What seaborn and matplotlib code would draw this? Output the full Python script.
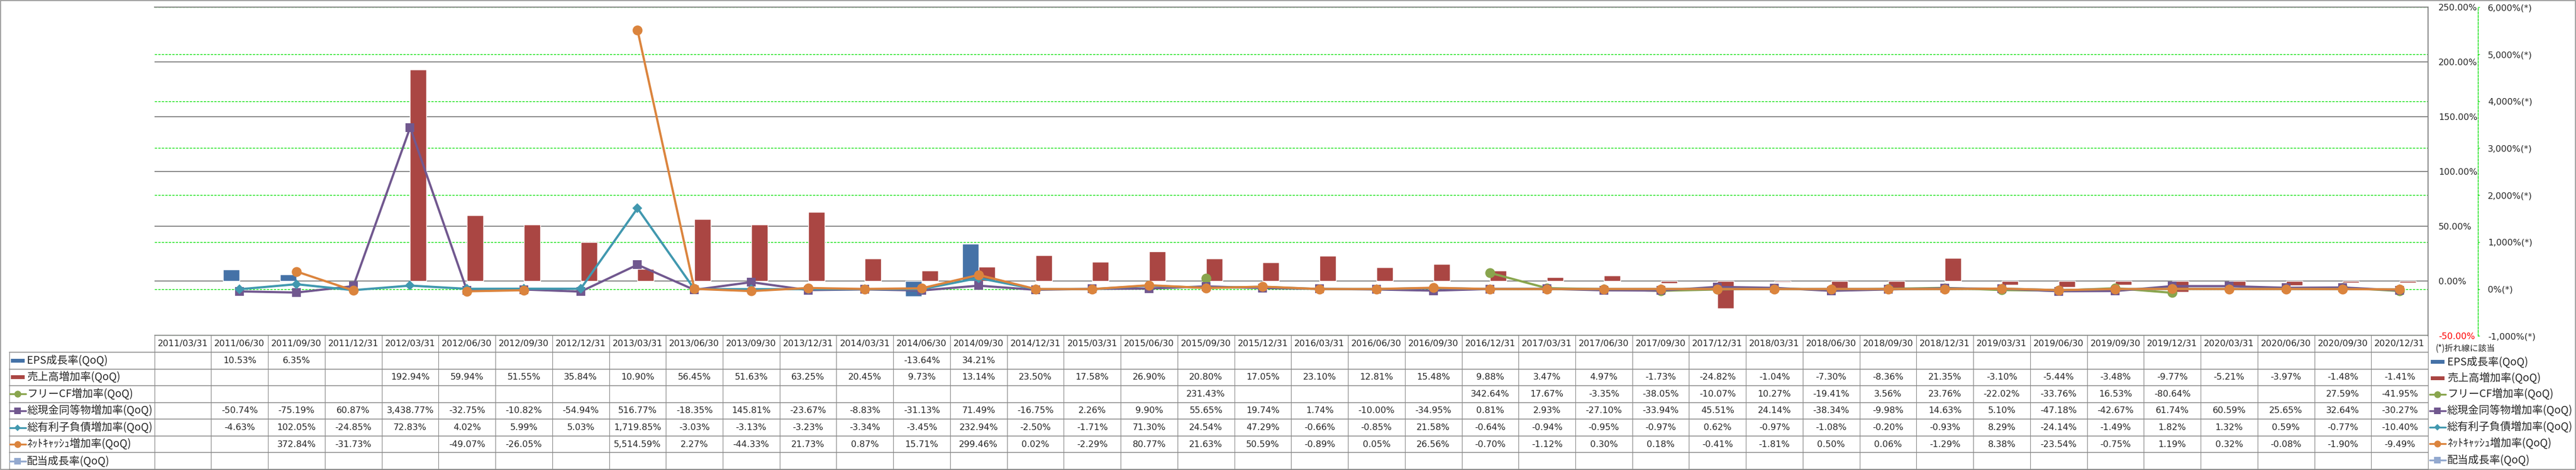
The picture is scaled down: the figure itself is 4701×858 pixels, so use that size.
import numpy as np
import pandas as pd
import seaborn as sns
import matplotlib.pyplot as plt
from matplotlib.patches import Rectangle
from matplotlib.lines import Line2D

N = np.nan

dates = ["2011/03/31", "2011/06/30", "2011/09/30", "2011/12/31",
         "2012/03/31", "2012/06/30", "2012/09/30", "2012/12/31",
         "2013/03/31", "2013/06/30", "2013/09/30", "2013/12/31",
         "2014/03/31", "2014/06/30", "2014/09/30", "2014/12/31",
         "2015/03/31", "2015/06/30", "2015/09/30", "2015/12/31",
         "2016/03/31", "2016/06/30", "2016/09/30", "2016/12/31",
         "2017/03/31", "2017/06/30", "2017/09/30", "2017/12/31",
         "2018/03/31", "2018/06/30", "2018/09/30", "2018/12/31",
         "2019/03/31", "2019/06/30", "2019/09/30", "2019/12/31",
         "2020/03/31", "2020/06/30", "2020/09/30", "2020/12/31"]

# bar series (left axis, %)
eps = [N, 10.53, 6.35, N, N, N, N, N, N, N,
       N, N, N, -13.64, 34.21, N, N, N, N, N,
       N, N, N, N, N, N, N, N, N, N,
       N, N, N, N, N, N, N, N, N, N]
sales = [N, N, N, N, 192.94, 59.94, 51.55, 35.84, 10.90, 56.45,
         51.63, 63.25, 20.45, 9.73, 13.14, 23.50, 17.58, 26.90, 20.80, 17.05,
         23.10, 12.81, 15.48, 9.88, 3.47, 4.97, -1.73, -24.82, -1.04, -7.30,
         -8.36, 21.35, -3.10, -5.44, -3.48, -9.77, -5.21, -3.97, -1.48, -1.41]

# line series (right axis, %(*))
fcf = [N, N, N, N, N, N, N, N, N, N,
       N, N, N, N, N, N, N, N, 231.43, N,
       N, N, N, 342.64, 17.67, -3.35, -38.05, -10.07, 10.27, -19.41,
       3.56, 23.76, -22.02, -33.76, 16.53, -80.64, N, N, 27.59, -41.95]
cash = [N, -50.74, -75.19, 60.87, 3438.77, -32.75, -10.82, -54.94, 516.77, -18.35,
        145.81, -23.67, -8.83, -31.13, 71.49, -16.75, 2.26, 9.90, 55.65, 19.74,
        1.74, -10.00, -34.95, 0.81, 2.93, -27.10, -33.94, 45.51, 24.14, -38.34,
        -9.98, 14.63, 5.10, -47.18, -42.67, 61.74, 60.59, 25.65, 32.64, -30.27]
debt = [N, -4.63, 102.05, -24.85, 72.83, 4.02, 5.99, 5.03, 1719.85, -3.03,
        -3.13, -3.23, -3.34, -3.45, 232.94, -2.50, -1.71, 71.30, 24.54, 47.29,
        -0.66, -0.85, 21.58, -0.64, -0.94, -0.95, -0.97, 0.62, -0.97, -1.08,
        -0.20, -0.93, 8.29, -24.14, -1.49, 1.82, 1.32, 0.59, -0.77, -10.40]
netcash = [N, N, 372.84, -31.73, N, -49.07, -26.05, N, 5514.59, 2.27,
           -44.33, 21.73, 0.87, 15.71, 299.46, 0.02, -2.29, 80.77, 21.63, 50.59,
           -0.89, 0.05, 26.56, -0.70, -1.12, 0.30, 0.18, -0.41, -1.81, 0.50,
           0.06, -1.29, 8.38, -23.54, -0.75, 1.19, 0.32, -0.08, -1.90, -9.49]
dividend = [N] * 40

names = ["EPS成長率(QoQ)", "売上高増加率(QoQ)", "フリーCF増加率(QoQ)",
         "総現金同等物増加率(QoQ)", "総有利子負債増加率(QoQ)",
         "ﾈｯﾄｷｬｯｼｭ増加率(QoQ)", "配当成長率(QoQ)"]
series = [eps, sales, fcf, cash, debt, netcash, dividend]
colors = ["#4572A7", "#AA4643", "#89A54E", "#71588F", "#4198AF", "#DB843D", "#93A9CF"]
markers = [None, None, "o", "s", "D", "o", "s"]
msizes = [0, 0, 13, 11, 9.5, 13, 11]

sns.set_style("white")
plt.rcParams["font.family"] = ["DejaVu Sans", "Noto Sans CJK JP"]
JP = ["Noto Sans CJK JP", "DejaVu Sans"]
GRAY = "#878787"
LIME = "#00e000"

W, H = 4701, 858
L, R = 281.7, 4431.0
TOP, BOT = 13.3, 613.3
colw = (R - L) / len(dates)

fig = plt.figure(figsize=(W / 100, H / 100), dpi=100)
ax = fig.add_axes([L / W, 1 - BOT / H, (R - L) / W, (BOT - TOP) / H])

bars = pd.DataFrame({"date": dates * 2,
                     "series": [names[0]] * 40 + [names[1]] * 40,
                     "value": eps + sales})
sns.barplot(data=bars, x="date", y="value", hue="series", order=dates,
            hue_order=names[:2], palette=colors[:2], width=0.578,
            errorbar=None, saturation=1, legend=False, ax=ax)

# secondary gridlines, behind the bars
sticks = list(range(-1000, 6001, 1000))
for v in sticks:
    ax.axhline(-50 + (v + 1000) * 300 / 7000, color=LIME, lw=1,
               ls=(0, (3, 1.6)), zorder=0.6)

ax2 = ax.twinx()
for k in [2, 3, 4, 5]:
    vals = pd.Series(series[k])
    seg = vals.isna().cumsum()
    d = pd.DataFrame({"x": range(len(dates)), "y": vals, "seg": seg}).dropna()
    sns.lineplot(data=d, x="x", y="y", units="seg", estimator=None, sort=False,
                 color=colors[k], marker=markers[k], markersize=msizes[k],
                 markeredgewidth=0, linewidth=2.9, legend=False, ax=ax2)

# primary axis (bars) - labels on the right side of the plot
ax.set_xlim(-0.5, len(dates) - 0.5)
ax.set_ylim(-50, 250)
ax.set_xticks([])
ax.set_xlabel("")
ax.set_ylabel("")
ax.yaxis.tick_right()
pticks = list(range(-50, 251, 50))
ax.set_yticks(pticks)
ax.set_yticklabels([f"{v:.2f}%" for v in pticks])
ax.tick_params(axis="y", which="both", left=False, labelleft=False,
               right=True, labelright=True, length=0, pad=13.7, labelsize=11.5)
ax.get_yticklabels()[0].set_color("red")
ax.grid(axis="y", color=GRAY, lw=1.4)
ax.grid(axis="x", visible=False)
ax.set_axisbelow(True)
for s in ["left", "bottom"]:
    ax.spines[s].set_visible(False)
for s in ["top", "right"]:
    ax.spines[s].set_color(GRAY)
    ax.spines[s].set_linewidth(1.4)

# secondary axis (lines)
ax2.set_xlim(-0.5, len(dates) - 0.5)
ax2.set_ylim(-1000, 6000)
ax2.set_xlabel("")
ax2.set_ylabel("")
ax2.set_yticks(sticks)
ax2.set_yticklabels([f"{v:,}%(*)" for v in sticks])
ax2.tick_params(axis="y", length=2.2, width=1, color=LIME, pad=11, labelsize=11.5)
ax2.get_yticklabels()[0].set_color("red")
ax2.grid(False)
for s in ["left", "bottom", "top"]:
    ax2.spines[s].set_visible(False)
ax2.spines["right"].set_position(("outward", 65.3))
ax2.spines["right"].set_color(LIME)
ax2.spines["right"].set_linestyle((0, (3, 1.6)))
ax2.spines["right"].set_linewidth(1)

# data table and legend, in pixel coordinates
tab = fig.add_axes([0, 0, 1, 1])
tab.set_xlim(0, W)
tab.set_ylim(H, 0)
tab.axis("off")

y0, y1, yb = 612.3, 643.0, 857.0
rh = (yb - y1) / len(names)
lab_x = 16.7

tab.plot([L, R], [y0, y0], color=GRAY, lw=1.1)
for r in range(len(names) + 1):
    tab.plot([lab_x, R], [y1 + r * rh] * 2, color=GRAY, lw=1.1)
for c in range(len(dates) + 1):
    tab.plot([L + c * colw] * 2, [y0, yb], color=GRAY, lw=0.8)
tab.plot([lab_x, lab_x], [y1, yb], color=GRAY, lw=0.8)

for c, d in enumerate(dates):
    tab.text(L + (c + 0.5) * colw, (y0 + y1) / 2, d, ha="center", va="center",
             fontsize=11.5)


def draw_key(x0, x1, yc, k):
    if markers[k] is None:
        tab.add_patch(Rectangle((x0 + 2, yc - 3.5), x1 - x0 - 4, 7, color=colors[k], lw=0))
    else:
        tab.add_line(Line2D([x0, x1], [yc, yc], color=colors[k], lw=2.4))
        ms = {"o": 9, "s": 8, "D": 6.5}[markers[k]]
        tab.plot([(x0 + x1) / 2], [yc], marker=markers[k], ms=ms, color=colors[k], mew=0)


for r, (name, vals) in enumerate(zip(names, series)):
    yc = y1 + (r + 0.5) * rh
    draw_key(18.3, 46.7, yc, r)
    tab.text(49.3, yc, name, ha="left", va="center", fontsize=14, family=JP)
    for c, v in enumerate(vals):
        if not np.isnan(v):
            tab.text(L + (c + 0.5) * colw, yc, f"{v:,.2f}%", ha="center",
                     va="center", fontsize=11.5)

# legend on the right
tab.text(4445, 636, "(*)折れ線に該当", ha="left", va="center", fontsize=11, family=JP)
for r, name in enumerate(names):
    yc = 660.5 + r * 29.9
    draw_key(4434, 4463, yc, r)
    tab.text(4466, yc, name, ha="left", va="center", fontsize=14, family=JP)

tab.add_patch(Rectangle((0.8, 0.8), W - 1.6, H - 1.6, fill=False, ec=GRAY, lw=1.1))

fig.savefig("out.png", dpi=100)
